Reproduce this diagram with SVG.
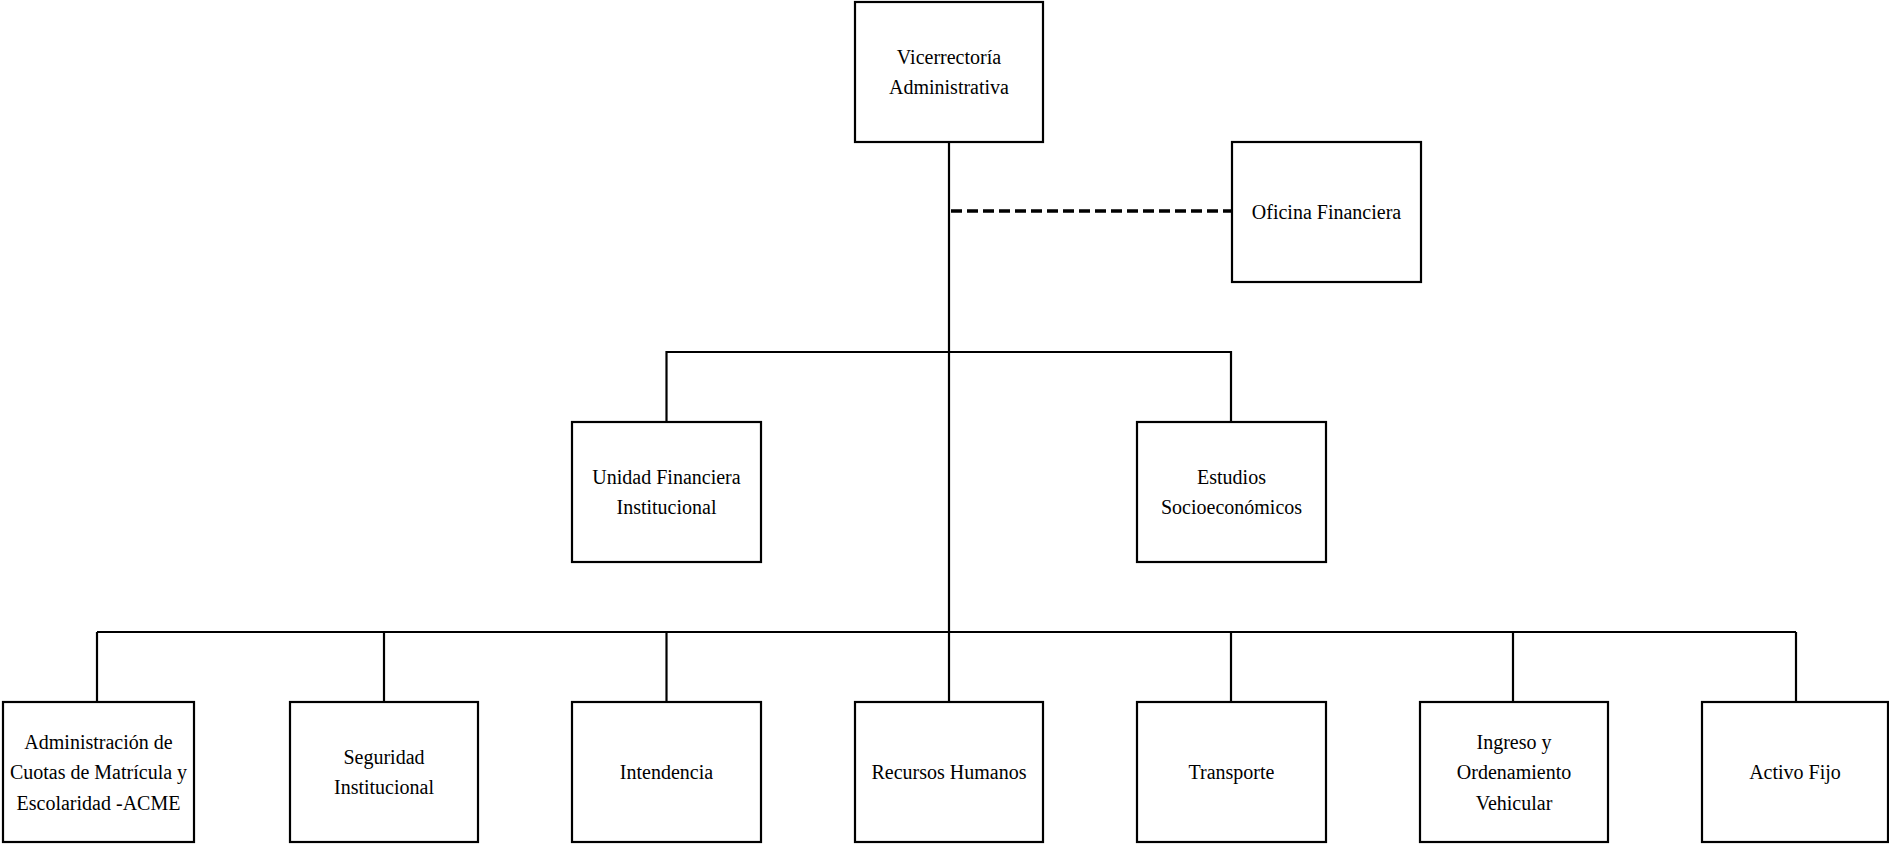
<svg xmlns="http://www.w3.org/2000/svg" width="1889" height="844" viewBox="0 0 1889 844">
<style>
.box{fill:#fff;stroke:#000;stroke-width:2.2}
.ln{fill:none;stroke:#000;stroke-width:2.2}
.dash{fill:none;stroke:#000;stroke-width:3.5;stroke-dasharray:11 5}
text{font-family:"Liberation Serif","Times New Roman",serif;font-size:20px;fill:#000;text-anchor:middle}
</style>
<rect width="1889" height="844" fill="#fff"/>
<g id="connectors">
<line class="ln" x1="949" y1="142" x2="949" y2="632"/>
<line class="dash" x1="951" y1="211" x2="1231" y2="211"/>
<polyline class="ln" points="666.5,422 666.5,352 1231,352 1231,422"/>
<line class="ln" x1="97" y1="632" x2="1796" y2="632"/>
<line class="ln" x1="97" y1="632" x2="97" y2="702"/>
<line class="ln" x1="384" y1="632" x2="384" y2="702"/>
<line class="ln" x1="666.5" y1="632" x2="666.5" y2="702"/>
<line class="ln" x1="949" y1="632" x2="949" y2="702"/>
<line class="ln" x1="1231" y1="632" x2="1231" y2="702"/>
<line class="ln" x1="1513" y1="632" x2="1513" y2="702"/>
<line class="ln" x1="1796" y1="632" x2="1796" y2="702"/>
</g>
<g id="vicerrectoria">
<rect class="box" x="855" y="2" width="188" height="140"/>
<text x="949" y="64">Vicerrectoría</text>
<text x="949" y="94">Administrativa</text>
</g>
<g id="oficina">
<rect class="box" x="1232" y="142" width="189" height="140"/>
<text x="1326.5" y="219">Oficina Financiera</text>
</g>
<g id="unidad">
<rect class="box" x="572" y="422" width="189" height="140"/>
<text x="666.5" y="484">Unidad Financiera</text>
<text x="666.5" y="514">Institucional</text>
</g>
<g id="estudios">
<rect class="box" x="1137" y="422" width="189" height="140"/>
<text x="1231.5" y="484">Estudios</text>
<text x="1231.5" y="514">Socioeconómicos</text>
</g>
<g id="acme">
<rect class="box" x="3" y="702" width="191" height="140"/>
<text x="98.5" y="749">Administración de</text>
<text x="98.5" y="779">Cuotas de Matrícula y</text>
<text x="98.5" y="810">Escolaridad -ACME</text>
</g>
<g id="seguridad">
<rect class="box" x="290" y="702" width="188" height="140"/>
<text x="384" y="764">Seguridad</text>
<text x="384" y="794">Institucional</text>
</g>
<g id="intendencia">
<rect class="box" x="572" y="702" width="189" height="140"/>
<text x="666.5" y="779">Intendencia</text>
</g>
<g id="rrhh">
<rect class="box" x="855" y="702" width="188" height="140"/>
<text x="949" y="779">Recursos Humanos</text>
</g>
<g id="transporte">
<rect class="box" x="1137" y="702" width="189" height="140"/>
<text x="1231.5" y="779">Transporte</text>
</g>
<g id="ingreso">
<rect class="box" x="1420" y="702" width="188" height="140"/>
<text x="1514" y="749">Ingreso y</text>
<text x="1514" y="779">Ordenamiento</text>
<text x="1514" y="810">Vehicular</text>
</g>
<g id="activo">
<rect class="box" x="1702" y="702" width="186" height="140"/>
<text x="1795" y="779">Activo Fijo</text>
</g>
</svg>
